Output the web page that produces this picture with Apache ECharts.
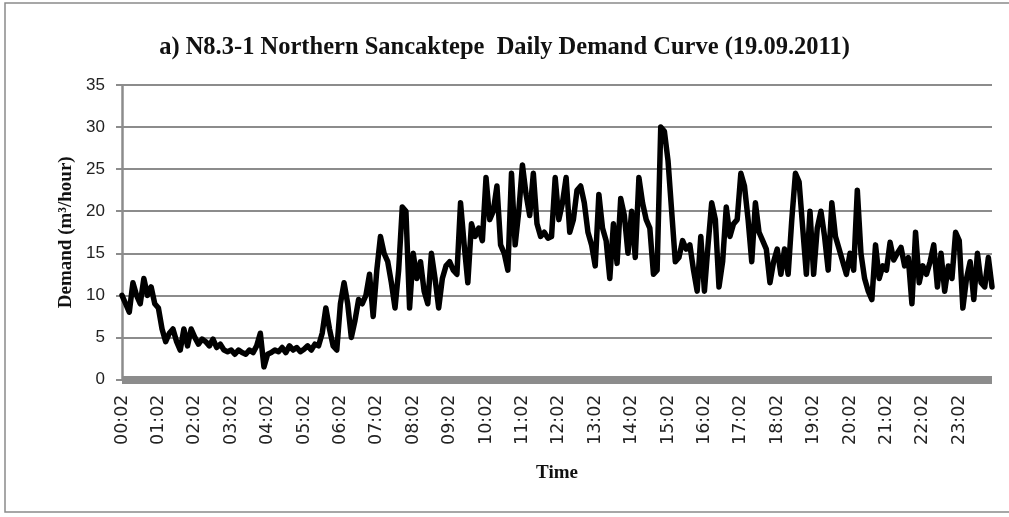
<!DOCTYPE html>
<html>
<head>
<meta charset="utf-8">
<script src="https://cdn.jsdelivr.net/npm/echarts@6/dist/echarts.min.js"></script>
<style>html,body{margin:0;padding:0;background:#fff;}#chart{width:1009px;height:517px;}</style>
</head>
<body>
<div id="chart"></div>
<script>
// Demand values (m3/hour), 6-minute steps starting 00:02, one row per hour
const hour00 = [10, 9, 8, 11.5, 10, 9, 12, 10, 11, 9];
const hour01 = [8.5, 6, 4.5, 5.5, 6, 4.5, 3.5, 6, 4, 6];
const hour02 = [5, 4.2, 4.8, 4.5, 4, 4.8, 3.8, 4.2, 3.5, 3.3];
const hour03 = [3.5, 3, 3.5, 3.2, 3, 3.5, 3.2, 4, 5.5, 1.5];
const hour04 = [3, 3.2, 3.5, 3.3, 3.8, 3.2, 4, 3.5, 3.8, 3.3];
const hour05 = [3.6, 4, 3.5, 4.2, 4, 5.5, 8.5, 6, 4, 3.5];
const hour06 = [9, 11.5, 9, 5, 7, 9.5, 9, 10, 12.5, 7.5];
const hour07 = [13, 17, 15, 14, 11.5, 8.5, 13, 20.5, 20, 8.5];
const hour08 = [15, 12, 14, 10.5, 9, 15, 12, 8.5, 12, 13.5];
const hour09 = [14, 13, 12.5, 21, 16, 11.5, 18.5, 17, 18, 16.5];
const hour10 = [24, 19, 20, 23, 16, 15, 13, 24.5, 16, 20];
const hour11 = [25.5, 22, 19.5, 24.5, 18.5, 17, 17.5, 16.8, 17, 24];
const hour12 = [19, 21, 24, 17.5, 19, 22.5, 23, 21, 17.5, 16];
const hour13 = [13.5, 22, 18, 16.5, 12, 18.5, 13.8, 21.5, 19.5, 15];
const hour14 = [20, 14.5, 24, 21, 19, 18, 12.5, 13, 30, 29.5];
const hour15 = [26, 20, 14, 14.5, 16.5, 15.5, 16, 13, 10.5, 17];
const hour16 = [10.5, 16, 21, 19, 11, 14, 20.5, 17, 18.5, 19];
const hour17 = [24.5, 23, 19, 14, 21, 17.5, 16.5, 15.5, 11.5, 14];
const hour18 = [15.5, 12.5, 15.5, 12.5, 19, 24.5, 23.5, 18, 12.5, 20];
const hour19 = [12.5, 18, 20, 17, 13, 21, 17, 15.5, 14, 12.5];
const hour20 = [15, 13, 22.5, 15, 12, 10.5, 9.5, 16, 12, 13.5];
const hour21 = [13, 16.3, 14.2, 15, 15.7, 13.5, 14.5, 9, 17.5, 11.5];
const hour22 = [13.5, 12.5, 14, 16, 11, 15, 10.5, 13.5, 12, 17.5];
const hour23 = [16.5, 8.5, 12, 14, 9.5, 15, 11.5, 11, 14.5, 11];

const demand = [].concat(hour00, hour01, hour02, hour03, hour04, hour05, hour06, hour07,
  hour08, hour09, hour10, hour11, hour12, hour13, hour14, hour15, hour16, hour17,
  hour18, hour19, hour20, hour21, hour22, hour23);

const stepMinutes = 6;
const startMinute = 2;
const times = demand.map((_, i) => {
  const m = startMinute + i * stepMinutes;
  const hh = String(Math.floor(m / 60)).padStart(2, '0');
  const mm = String(m % 60).padStart(2, '0');
  return hh + ':' + mm;
});

const yTicks = [0, 5, 10, 15, 20, 25, 30, 35];

const chart = echarts.init(document.getElementById('chart'));
chart.setOption({
  animation: false,
  backgroundColor: '#fff',
  graphic: [{
    type: 'rect',
    shape: { x: 5, y: 3, width: 1010, height: 509 },
    style: { fill: 'none', stroke: '#8a8a8a', lineWidth: 1.5 },
    silent: true
  }],
  title: {
    text: 'a) N8.3-1 Northern Sancaktepe  Daily Demand Curve (19.09.2011)',
    left: 'center',
    top: 30,
    textStyle: { fontFamily: 'Liberation Serif', fontWeight: 'bold', fontSize: 24.5, color: '#111' }
  },
  grid: { left: 122, right: 17, top: 85, bottom: 137.5 },
  xAxis: {
    type: 'category',
    data: times,
    boundaryGap: false,
    offset: 4,
    axisLine: { lineStyle: { color: '#8c8c8c', width: 8, cap: 'butt' } },
    axisTick: { show: false },
    axisLabel: {
      interval: 9,
      rotate: 90,
      margin: 11,
      fontFamily: 'DejaVu Sans',
      fontSize: 17.5,
      color: '#222'
    },
    name: 'Time',
    nameLocation: 'middle',
    nameGap: 80,
    nameTextStyle: { fontFamily: 'Liberation Serif', fontWeight: 'bold', fontSize: 19, color: '#111' }
  },
  yAxis: {
    type: 'value',
    min: yTicks[0],
    max: yTicks[yTicks.length - 1],
    interval: 5,
    axisLine: { show: true, lineStyle: { color: '#8c8c8c', width: 2.5, cap: 'butt' } },
    axisTick: { show: true, length: 6, lineStyle: { color: '#8c8c8c', width: 2 } },
    splitLine: { lineStyle: { color: '#8c8c8c', width: 2 } },
    axisLabel: {
      margin: 17,
      fontFamily: 'Liberation Sans',
      fontSize: 17,
      color: '#222'
    },
    name: 'Demand (m³/hour)',
    nameLocation: 'middle',
    nameGap: 43,
    nameTextStyle: { fontFamily: 'Liberation Serif', fontWeight: 'bold', fontSize: 19, color: '#111' }
  },
  series: [{
    type: 'line',
    data: demand,
    symbol: 'none',
    lineStyle: { color: '#000', width: 5.5, join: 'round', cap: 'round' }
  }]
});
</script>
</body>
</html>
